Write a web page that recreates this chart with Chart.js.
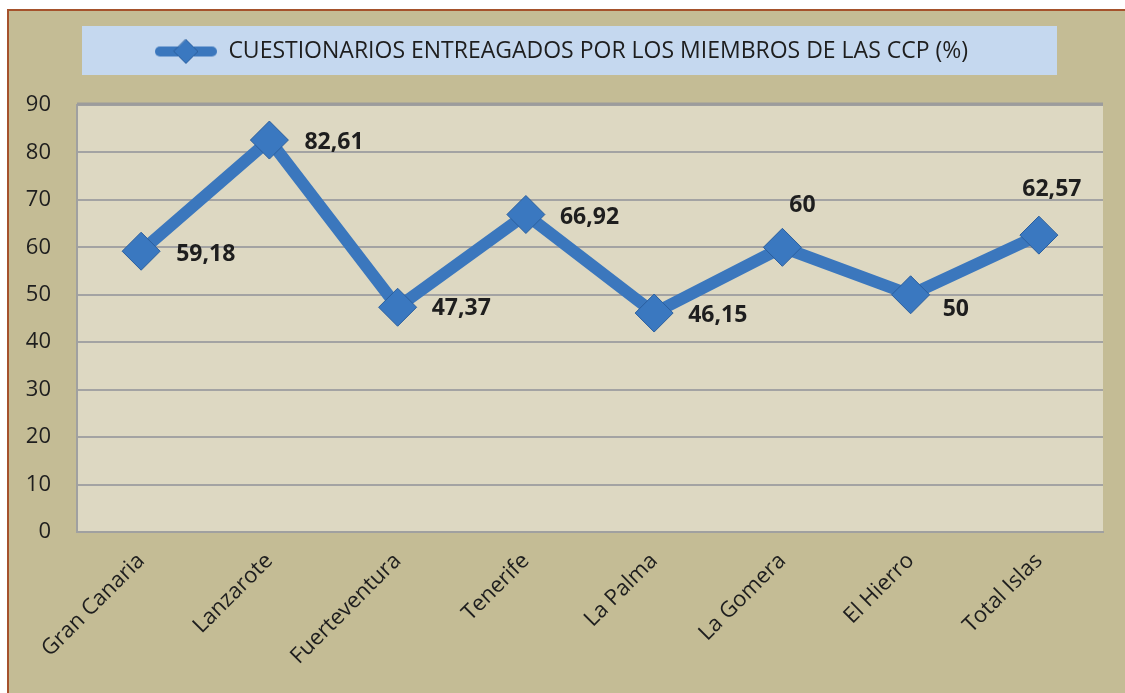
<!DOCTYPE html>
<html>
<head>
<meta charset="utf-8">
<script src="https://cdn.jsdelivr.net/npm/chart.js@4"></script>
<style>
  html, body { margin: 0; padding: 0; background: #fff; }
  #wrap { width: 1125px; height: 693px; }
</style>
</head>
<body>
<div id="wrap"><canvas id="chart" width="1125" height="693"></canvas></div>
<script>
const categories  = ['Gran Canaria', 'Lanzarote', 'Fuerteventura', 'Tenerife', 'La Palma', 'La Gomera', 'El Hierro', 'Total Islas'];
const values      = [59.18, 82.61, 47.37, 66.92, 46.15, 60, 50, 62.57];
const seriesLabel = 'CUESTIONARIOS ENTREAGADOS POR LOS MIEMBROS DE LAS CCP (%)';
const yMin = 0, yMax = 90, yStep = 10;

// where each value label sits relative to its point (dx, dy)
const labelOffsets = [[35, 3], [35, 2], [34, 1], [34, 3], [34, 2], [20, -42], [32, 15], [13, -46]];

const FONT  = "'Open Sans', 'Noto Sans', sans-serif";
const BLUE  = '#3B77BD';
const fmtNum = v => String(v).replace('.', ',');

// legend marker: thick line with a diamond
function legendMarker() {
  const c = document.createElement('canvas');
  c.width = 62; c.height = 26;
  const g = c.getContext('2d');
  g.strokeStyle = BLUE; g.lineWidth = 10; g.lineCap = 'round';
  g.beginPath(); g.moveTo(5, 13); g.lineTo(57, 13); g.stroke();
  g.fillStyle = '#3A78C0'; g.strokeStyle = '#2B5F9E'; g.lineWidth = 1;
  g.beginPath(); g.moveTo(31, 1); g.lineTo(43, 13); g.lineTo(31, 25); g.lineTo(19, 13); g.closePath();
  g.fill(); g.stroke();
  return c;
}

// extra room under the legend
const legendGap = {
  id: 'legendGap',
  beforeInit(chart) {
    const fit = chart.legend.fit;
    chart.legend.fit = function () { fit.call(this); this.height += 32; };
  }
};

const framePlugin = {
  id: 'frame',
  beforeDraw(chart) {
    const { ctx, width, height } = chart;
    ctx.save();
    ctx.fillStyle = '#ffffff';
    ctx.fillRect(0, 0, width, height);
    ctx.fillStyle = '#C4BC95';
    ctx.fillRect(8, 10, width - 8, height - 10);
    ctx.strokeStyle = '#A5522C'; ctx.lineWidth = 2;
    ctx.beginPath(); ctx.moveTo(8, height); ctx.lineTo(8, 10); ctx.lineTo(width, 10); ctx.stroke();
    // legend panel
    ctx.fillStyle = '#C5D8EF';
    ctx.fillRect(82, 26, 975, 49);
    // plot area
    const a = chart.chartArea;
    ctx.fillStyle = '#DDD8C2';
    ctx.fillRect(a.left, a.top, a.right - a.left, a.bottom - a.top);
    ctx.restore();
  },
  afterDraw(chart) {
    const { ctx } = chart;
    const a = chart.chartArea;
    ctx.save();
    ctx.strokeStyle = '#9C9C9C'; ctx.lineWidth = 3;
    ctx.beginPath(); ctx.moveTo(a.left, a.top - 1); ctx.lineTo(a.right, a.top - 1); ctx.stroke();
    ctx.restore();
  }
};

const valueLabels = {
  id: 'valueLabels',
  afterDatasetsDraw(chart) {
    const { ctx } = chart;
    const meta = chart.getDatasetMeta(0);
    ctx.save();
    ctx.font = `bold 23px ${FONT}`;
    ctx.fillStyle = '#1E1E1E';
    ctx.textBaseline = 'middle';
    meta.data.forEach((pt, i) => {
      const [dx, dy] = labelOffsets[i];
      const txt = fmtNum(values[i]);
      ctx.textAlign = dy < -20 ? 'center' : 'left';
      ctx.fillText(txt, pt.x + dx, pt.y + dy);
    });
    ctx.restore();
  }
};

new Chart(document.getElementById('chart'), {
  type: 'line',
  data: {
    labels: categories,
    datasets: [{
      label: seriesLabel,
      data: values,
      borderColor: BLUE,
      borderWidth: 12,
      backgroundColor: '#3A78C0',
      pointStyle: 'rectRot',
      pointRadius: 19,
      pointHoverRadius: 19,
      pointBackgroundColor: '#3A78C0',
      pointBorderColor: '#2B5F9E',
      pointBorderWidth: 1,
      tension: 0,
    }],
  },
  options: {
    responsive: false,
    animation: false,
    layout: { padding: { left: 20, right: 22, top: 22, bottom: 8 } },
    plugins: {
      legend: {
        display: true,
        labels: {
          color: '#1E1E1E',
          font: { family: FONT, size: 23 },
          usePointStyle: true,
          pointStyle: legendMarker(),
          pointStyleWidth: 62,
          padding: 18,
        },
      },
      tooltip: { enabled: false },
    },
    scales: {
      x: {
        offset: true,
        grid: { display: false },
        border: { display: true, color: '#A0A0A0', width: 2 },
        ticks: { color: '#1E1E1E', font: { family: FONT, size: 22 }, maxRotation: 45, minRotation: 45, padding: 8 },
        afterFit: s => { s.height = 153; },
      },
      y: {
        min: yMin, max: yMax,
        grid: { color: '#A3A3A3', lineWidth: 2, drawTicks: false },
        border: { display: true, color: '#A0A0A0', width: 2 },
        ticks: { stepSize: yStep, color: '#1E1E1E', font: { family: FONT, size: 22 }, padding: 26 },
        afterFit: s => { s.width = 57; },
      },
    },
  },
  plugins: [legendGap, framePlugin, valueLabels],
});
</script>
</body>
</html>
